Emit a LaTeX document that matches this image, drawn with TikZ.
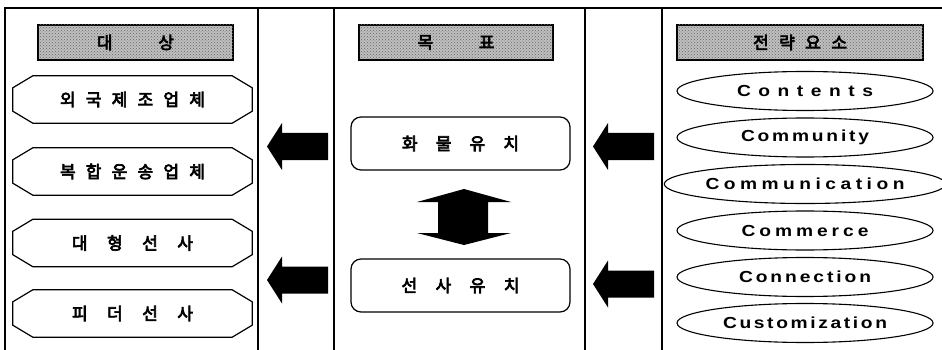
\documentclass[tikz,border=0pt]{standalone}
\usepackage{fontspec}
\setmainfont{Liberation Sans}
\newfontfamily\kr[FakeBold=4]{Noto Sans CJK KR}
\newfontfamily\en[FakeStretch=1.2]{Liberation Sans}
\usetikzlibrary{patterns,shapes.geometric}
\newcommand\spr[2]{\makebox[#1][s]{\sprA#2\relax}}
\def\sprA#1{#1\sprB}
\def\sprB#1{\ifx\relax#1\else\hfil#1\expandafter\sprB\fi}
\begin{document}
\begin{tikzpicture}[x=1pt,y=-1pt,
  frame/.style={line width=1.4pt},
  hdr/.style={draw, line width=1.6pt, fill=black!25,
    postaction={pattern=crosshatch dots, pattern color=black!60},
    minimum height=35pt, inner sep=0pt, font=\kr\fontsize{17}{19}\selectfont},
  oct/.style={minimum width=239pt, minimum height=47pt, inner sep=0pt,
    font=\kr\fontsize{17}{19}\selectfont},
  octline/.style={line width=1.2pt},
  rbox/.style={draw, rounded corners=10pt, line width=1.2pt, minimum width=219pt,
    minimum height=53pt, inner sep=0pt, font=\kr\fontsize{17}{19}\selectfont},
  ell/.style={draw, ellipse, line width=1.1pt, minimum width=256pt, minimum height=39pt,
    inner sep=0pt, font=\en\bfseries\fontsize{16}{18}\selectfont},
  fat/.style={fill=black}]
\useasboundingbox (0,0) rectangle (942,350);
% frame
\draw[frame] (5,350) -- (5,8) -- (942,8);
\foreach \xx in {258,334,585,662} \draw[frame] (\xx,8) -- (\xx,350);
% headers
\node[hdr, minimum width=195pt] (h1) at (135.5,42.5) {\spr{77pt}{대 상}};
\node[hdr, minimum width=194pt] (h2) at (456,42.5) {\spr{77pt}{목 표}};
\node[hdr, minimum width=246pt] (h3) at (800,42.5) {\spr{94pt}{전략요소}};
% left column
\node[oct] (o1) at (132.5,99.5) {\spr{145pt}{외국제조업체}};
\node[oct] (o2) at (132.5,171.5) {\spr{145pt}{복합운송업체}};
\node[oct] (o3) at (132.5,243) {\spr{121pt}{대 형 선 사}};
\node[oct] (o4) at (132.5,313.5) {\spr{121pt}{피 더 선 사}};
\foreach \n in {o1,o2,o3,o4}
  \draw[octline] ([xshift=20pt]\n.north west) -- ([xshift=-20pt]\n.north east)
    -- ([yshift=-12pt]\n.north east) -- ([yshift=12pt]\n.south east)
    -- ([xshift=-20pt]\n.south east) -- ([xshift=20pt]\n.south west)
    -- ([yshift=12pt]\n.south west) -- ([yshift=-12pt]\n.north west) -- cycle;
% middle column
\node[rbox] (m1) at (460.5,143.5) {\spr{117pt}{화 물 유 치}};
\node[rbox] (m2) at (460.5,285.5) {\spr{118pt}{선 사 유 치}};
% right column
\node[ell] (e1) at (805,91) {\spr{136pt}{Contents}};
\node[ell] (e2) at (805,137.5) {\spr{128pt}{Community}};
\node[ell] (e3) at (805,184) {\spr{199pt}{Communication}};
\node[ell] (e4) at (805,230.5) {\spr{127pt}{Commerce}};
\node[ell] (e5) at (805,277) {\spr{132pt}{Connection}};
\node[ell] (e6) at (805,323) {\spr{164pt}{Customization}};
% fat arrows
\coordinate (la1) at (267,146.5);
\coordinate (la2) at (267,280);
\coordinate (ra1) at (593,146.5);
\coordinate (ra2) at (593,284);
\foreach \c/\len in {la1/61,la2/61,ra1/61,ra2/61}
  \fill[fat] (\c) -- ++(15,-23.5) -- ++(0,10) -- ++(\len-15,0) -- ++(0,27)
    -- ++(-\len+15,0) -- ++(0,10) -- cycle;
% double arrow
\coordinate (da) at (464,189);
\fill[fat] (da) -- ++(47,13) -- ++(-23,0) -- ++(0,31) -- ++(23,0) -- ++(-47,12)
  -- ++(-47,-12) -- ++(21,0) -- ++(0,-31) -- ++(-21,0) -- cycle;
\end{tikzpicture}
\end{document}
